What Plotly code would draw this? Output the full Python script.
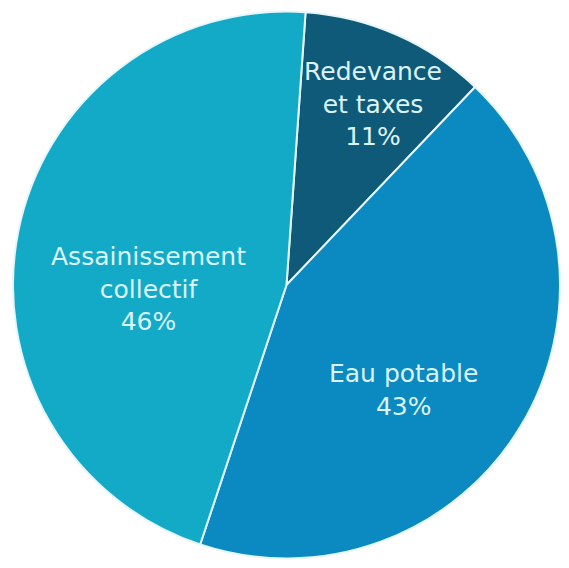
import plotly.graph_objects as go

# Répartition du prix de l'eau
labels = ["Redevance<br>et taxes", "Eau potable", "Assainissement<br>collectif"]
values = [11, 43, 46]
colors = ["#0f5a79", "#0a8ac0", "#13aac8"]

# label anchor points (pixels from top-left of the 569x568 canvas)
label_px = [(373, 104), (403, 390), (148, 289)]

W, H = 569, 568

fig = go.Figure(
    go.Pie(
        labels=labels,
        values=values,
        sort=False,
        direction="clockwise",
        rotation=4,
        marker=dict(colors=colors, line=dict(color="#e6f6fa", width=2)),
        textinfo="none",
        hoverinfo="label+percent",
        showlegend=False,
        domain=dict(x=[13 / W, 560 / W], y=[1 - 562 / H, 1 - 8 / H]),
    )
)

for lab, val, (px, py) in zip(labels, values, label_px):
    fig.add_annotation(
        x=px / W,
        y=1 - py / H,
        xref="paper",
        yref="paper",
        xanchor="center",
        yanchor="middle",
        text=f"{lab}<br>{val}%",
        showarrow=False,
        align="center",
        font=dict(family="DejaVu Sans", size=25, color="#dcf4f9"),
    )

fig.update_layout(
    width=W,
    height=H,
    margin=dict(l=0, r=0, t=0, b=0),
    paper_bgcolor="white",
    plot_bgcolor="white",
)

fig.write_html("out.html")
